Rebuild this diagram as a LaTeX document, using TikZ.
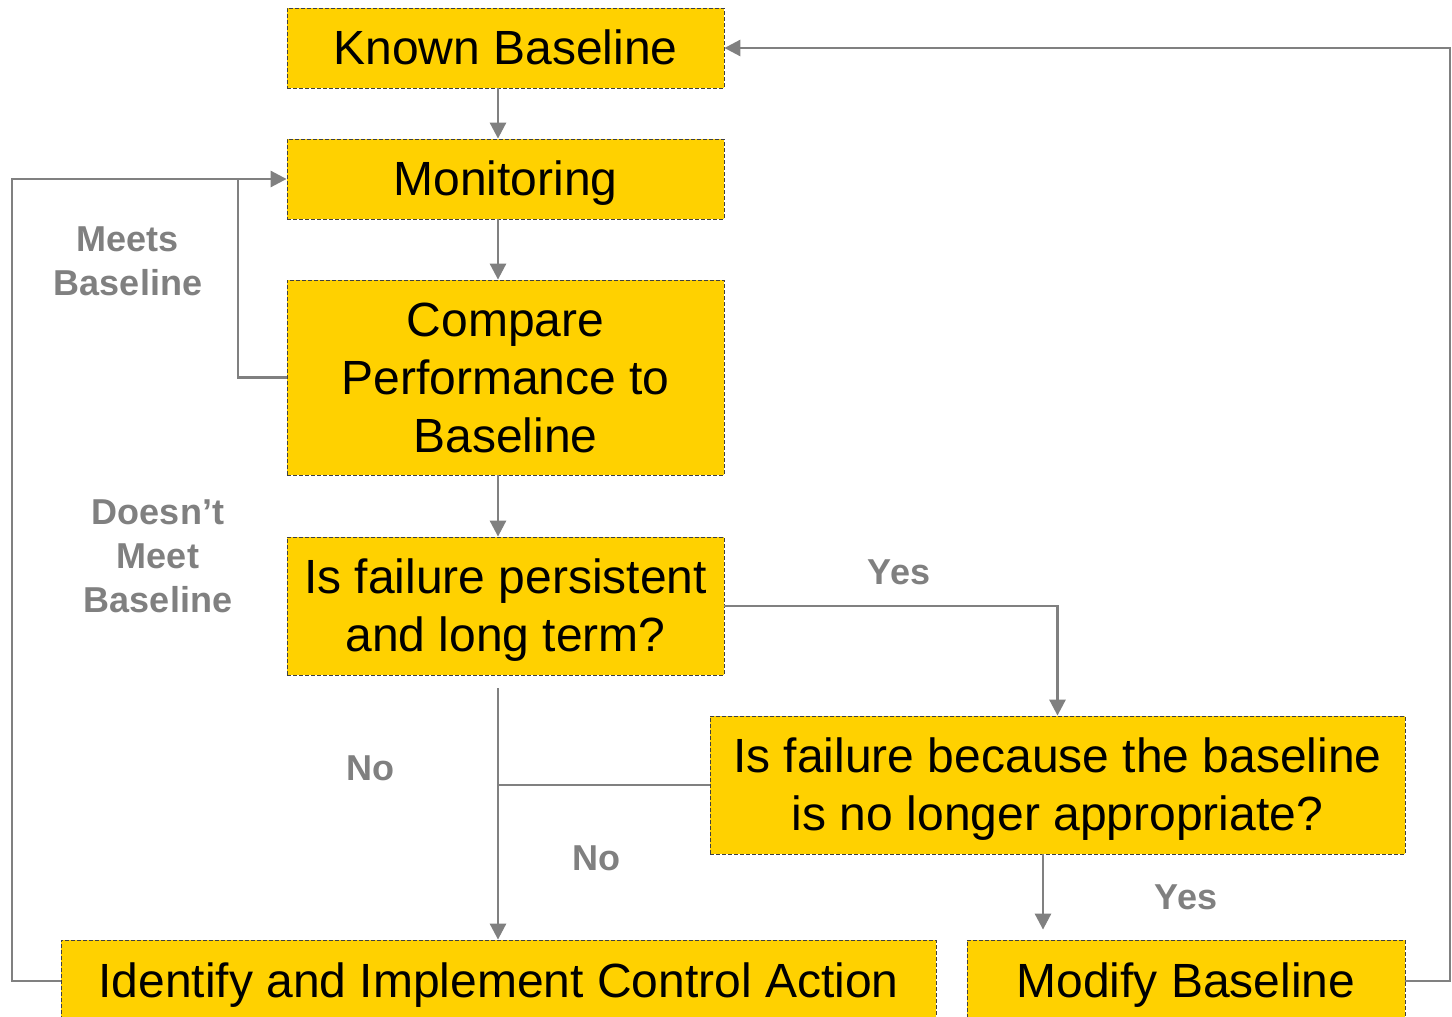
\documentclass[tikz,border=0pt]{standalone}
\usepackage{fontspec}
\setmainfont{Liberation Sans}
\usetikzlibrary{arrows.meta}
\definecolor{boxy}{HTML}{FFD100}
\definecolor{lgrey}{HTML}{808080}
\newcommand\bxstrut{\rule[-5.1pt]{0pt}{26.8pt}}
\begin{document}
\begin{tikzpicture}[x=0.5pt,y=-0.5pt,
 box/.style={draw=black!75, dash pattern=on 2pt off 1pt, fill=boxy, line width=0.4pt, inner sep=0pt, align=center, font=\fontsize{24}{29}\selectfont, text=black},
 conn/.style={draw=lgrey, line width=1.4pt, -{Triangle[length=8pt,width=8pt]}},
 plain/.style={draw=lgrey, line width=1.4pt},
 lbl/.style={text=lgrey, font=\bfseries\fontsize{18}{22}\selectfont, align=center}]
\useasboundingbox (0,0) rectangle (1452,1017);
\node[box, minimum width=218.5pt, minimum height=40pt] (kb) at (505.5,48) {\bxstrut Known Baseline};
\node[box, minimum width=218.5pt, minimum height=40pt] (mon) at (505.5,179) {\bxstrut Monitoring};
\node[box, minimum width=218.5pt, minimum height=97.5pt] (cmp) at (505.5,377.5) {\bxstrut Compare\\\bxstrut Performance to\\\bxstrut Baseline};
\node[box, minimum width=218.5pt, minimum height=69pt] (ps) at (505.5,606) {\bxstrut Is failure persistent\\\bxstrut and long term?};
\node[box, minimum width=347.5pt, minimum height=69pt] (bc) at (1057.5,785) {\bxstrut Is failure because the baseline\\\bxstrut is no longer appropriate?};
\node[box, minimum width=437.5pt, minimum height=41pt] (idf) at (498.5,981) {\bxstrut Identify and Implement Control Action};
\node[box, minimum width=219pt, minimum height=41pt] (mb) at (1186,981) {\bxstrut Modify Baseline};
\coordinate (vx) at (498,0);
\coordinate (yx) at (1043,0);
\coordinate (rx) at (1450,0);
\coordinate (lx) at (12,0);
\coordinate (mx) at (238,0);
\draw[conn] (kb.south -| vx) -- (mon.north -| vx);
\draw[conn] (mon.south -| vx) -- (cmp.north -| vx);
\draw[conn] (cmp.south -| vx) -- (ps.north -| vx);
\draw[conn] (ps.east) -| (bc.north);
\draw[conn] ([yshift=-6.5pt]ps.south -| vx) -- (idf.north -| vx);
\draw[plain] (bc.west) -- (bc.west -| vx);
\draw[conn] (bc.south -| yx) -- ([yshift=5pt]mb.north -| yx);
\draw[conn] (mb.east) -- (mb.east -| rx) -- (kb.east -| rx) -- (kb.east);
\draw[conn] (idf.west) -- (idf.west -| lx) -- (mon.west -| lx) -- (mon.west);
\draw[plain] (cmp.west) -- (cmp.west -| mx) -- (mon.west -| mx);
\node[lbl] (l1) at (128,261) {Meets\\Baseline};
\node[lbl] (l2) at (158,556) {Doesn’t\\Meet\\Baseline};
\node[lbl] (l3) at (899,572) {Yes};
\node[lbl] (l4) at (370,768) {No};
\node[lbl] (l5) at (596,858) {No};
\node[lbl] (l6) at (1186,897) {Yes};
\end{tikzpicture}
\end{document}
